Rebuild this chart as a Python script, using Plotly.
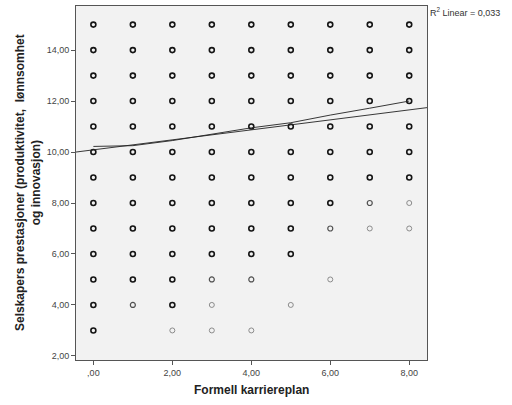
import plotly.graph_objects as go

# ---- data ----
x_categories = [0, 1, 2, 3, 4, 5, 6, 7, 8]
y_col_0 = [3, 4, 5, 6, 7, 8, 9, 10, 11, 12, 13, 14, 15]
y_col_1 = [4, 5, 6, 7, 8, 9, 10, 11, 12, 13, 14, 15]
y_col_2 = [3, 4, 5, 6, 7, 8, 9, 10, 11, 12, 13, 14, 15]
y_col_3 = [3, 4, 5, 6, 7, 8, 9, 10, 11, 12, 13, 14, 15]
y_col_4 = [3, 5, 6, 7, 8, 9, 10, 11, 12, 13, 14, 15]
y_col_5 = [4, 6, 7, 8, 9, 10, 11, 12, 13, 14, 15]
y_col_6 = [5, 7, 8, 9, 10, 11, 12, 13, 14, 15]
y_col_7 = [7, 8, 9, 10, 11, 12, 13, 14, 15]
y_col_8 = [7, 8, 9, 10, 11, 12, 13, 14, 15]
y_columns = [y_col_0, y_col_1, y_col_2, y_col_3, y_col_4, y_col_5, y_col_6, y_col_7, y_col_8]

# points drawn with lighter strokes (fewer overlapping cases)
medium_points = [(1, 4), (3, 5), (4, 5), (6, 7), (7, 8)]
light_points = [(2, 3), (3, 3), (4, 3), (3, 4), (5, 4), (6, 5), (7, 7), (8, 7), (8, 8)]

# linear fit
fit_intercept = 10.086
fit_slope = 0.196
fit_x_ends = [-0.44, 8.45]
r2_label = "R<sup>2</sup> Linear = 0,033"

# second (smoothed) line
smooth_x = [0, 1, 2, 3, 4, 5, 6, 7, 8]
smooth_y = [10.22, 10.25, 10.45, 10.7, 10.95, 11.15, 11.45, 11.72, 12.0]

x_tickvals = [0, 2, 4, 6, 8]
x_ticktext = [",00", "2,00", "4,00", "6,00", "8,00"]
y_tickvals = [2, 4, 6, 8, 10, 12, 14]
y_ticktext = ["2,00", "4,00", "6,00", "8,00", "10,00", "12,00", "14,00"]

x_title = "Formell karriereplan"
y_title = "Selskapers prestasjoner (produktivitet,  lønnsomhet<br>og innovasjon)"

# ---- build marker arrays ----
xs, ys, cols, widths = [], [], [], []
for xc, col in zip(x_categories, y_columns):
    for yv in col:
        xs.append(xc)
        ys.append(yv)
        if (xc, yv) in light_points:
            cols.append("#808080"); widths.append(0.9)
        elif (xc, yv) in medium_points:
            cols.append("#505050"); widths.append(1.2)
        else:
            cols.append("#151515"); widths.append(1.6)

fig = go.Figure()
fig.add_trace(go.Scatter(
    x=xs, y=ys, mode="markers",
    marker=dict(symbol="circle-open", size=5, color=cols,
                line=dict(color=cols, width=widths)),
    showlegend=False, hoverinfo="skip"))

fit_y = [fit_intercept + fit_slope * v for v in fit_x_ends]
fig.add_trace(go.Scatter(x=fit_x_ends, y=fit_y, mode="lines",
                         line=dict(color="#222222", width=0.9),
                         showlegend=False, hoverinfo="skip"))
fig.add_trace(go.Scatter(x=smooth_x, y=smooth_y, mode="lines",
                         line=dict(color="#222222", width=0.9),
                         showlegend=False, hoverinfo="skip"))

tick_font = dict(family="Liberation Sans, Arial, sans-serif", size=9, color="#444444")
axis_common = dict(showgrid=False, zeroline=False, showline=True, mirror=True,
                   linecolor="#555555", linewidth=1, ticks="outside",
                   ticklen=4, tickcolor="#555555", tickfont=tick_font)

fig.update_layout(
    width=512, height=405,
    margin=dict(l=76, r=85, t=6, b=45),
    paper_bgcolor="white", plot_bgcolor="#f2f2f2",
    xaxis=dict(range=[-0.44, 8.45], tickvals=x_tickvals, ticktext=x_ticktext, **axis_common),
    yaxis=dict(range=[1.84, 15.73], tickvals=y_tickvals, ticktext=y_ticktext, **axis_common),
)

title_font = dict(family="Liberation Sans, Arial, sans-serif", size=12, color="#222222")
fig.add_annotation(text="<b>" + x_title + "</b>", xref="paper", yref="paper",
                   x=0.5, y=-30 / 354, xanchor="center", yanchor="middle",
                   showarrow=False, font=title_font)
fig.add_annotation(text="<b>" + y_title.replace("<br>", "</b><br><b>") + "</b>",
                   xref="paper", yref="paper",
                   x=(28 - 76) / 351, y=0.5, xanchor="center", yanchor="middle",
                   textangle=-90, showarrow=False, font=title_font, align="center")
fig.add_annotation(text=r2_label, xref="paper", yref="paper",
                   x=1.003, y=(360 - 12) / 354, xanchor="left", yanchor="middle",
                   showarrow=False,
                   font=dict(family="Liberation Sans, Arial, sans-serif", size=9, color="#333333"))

fig.write_html("out.html")
